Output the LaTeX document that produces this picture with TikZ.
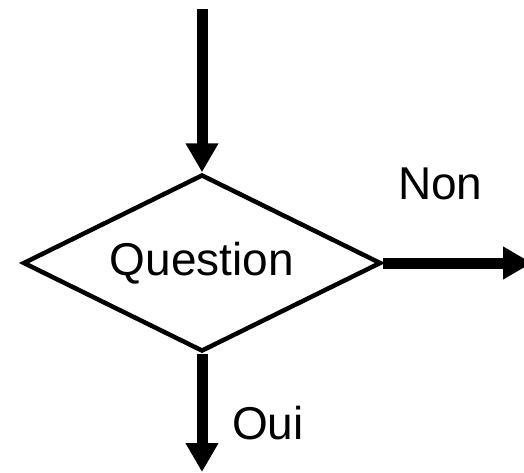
\documentclass[tikz,border=0pt]{standalone}
\usepackage{fontspec}
\setmainfont{Liberation Sans}
\usetikzlibrary{shapes.geometric,arrows.meta}
\begin{document}
\begin{tikzpicture}[x=1pt,y=-1pt,
  decision/.style={draw=black,line width=4.5pt,shape=diamond,aspect=2,inner sep=0pt,
    minimum width=358pt,minimum height=177pt,font=\fontsize{46pt}{50pt}\selectfont},
  flow/.style={draw=black,line width=11pt,-{Triangle[width=31pt,length=29pt]}},
  lbl/.style={inner sep=0pt,anchor=base west,font=\fontsize{46pt}{50pt}\selectfont}]
\useasboundingbox (0,0) rectangle (524,472);
\node[decision] (q) at (202,263) {Question};
\coordinate (in) at (202,9);
\coordinate (outno) at (532,264);
\coordinate (outyes) at (202,472);
\draw[flow] (in) -- (q.north);
\draw[flow] (q.east) -- (q.east -| outno);
\draw[flow] (q.south) -- (outyes);
\node[lbl] (non) at (398,199) {Non};
\node[lbl] (oui) at (232,439) {Oui};
\end{tikzpicture}
\end{document}
